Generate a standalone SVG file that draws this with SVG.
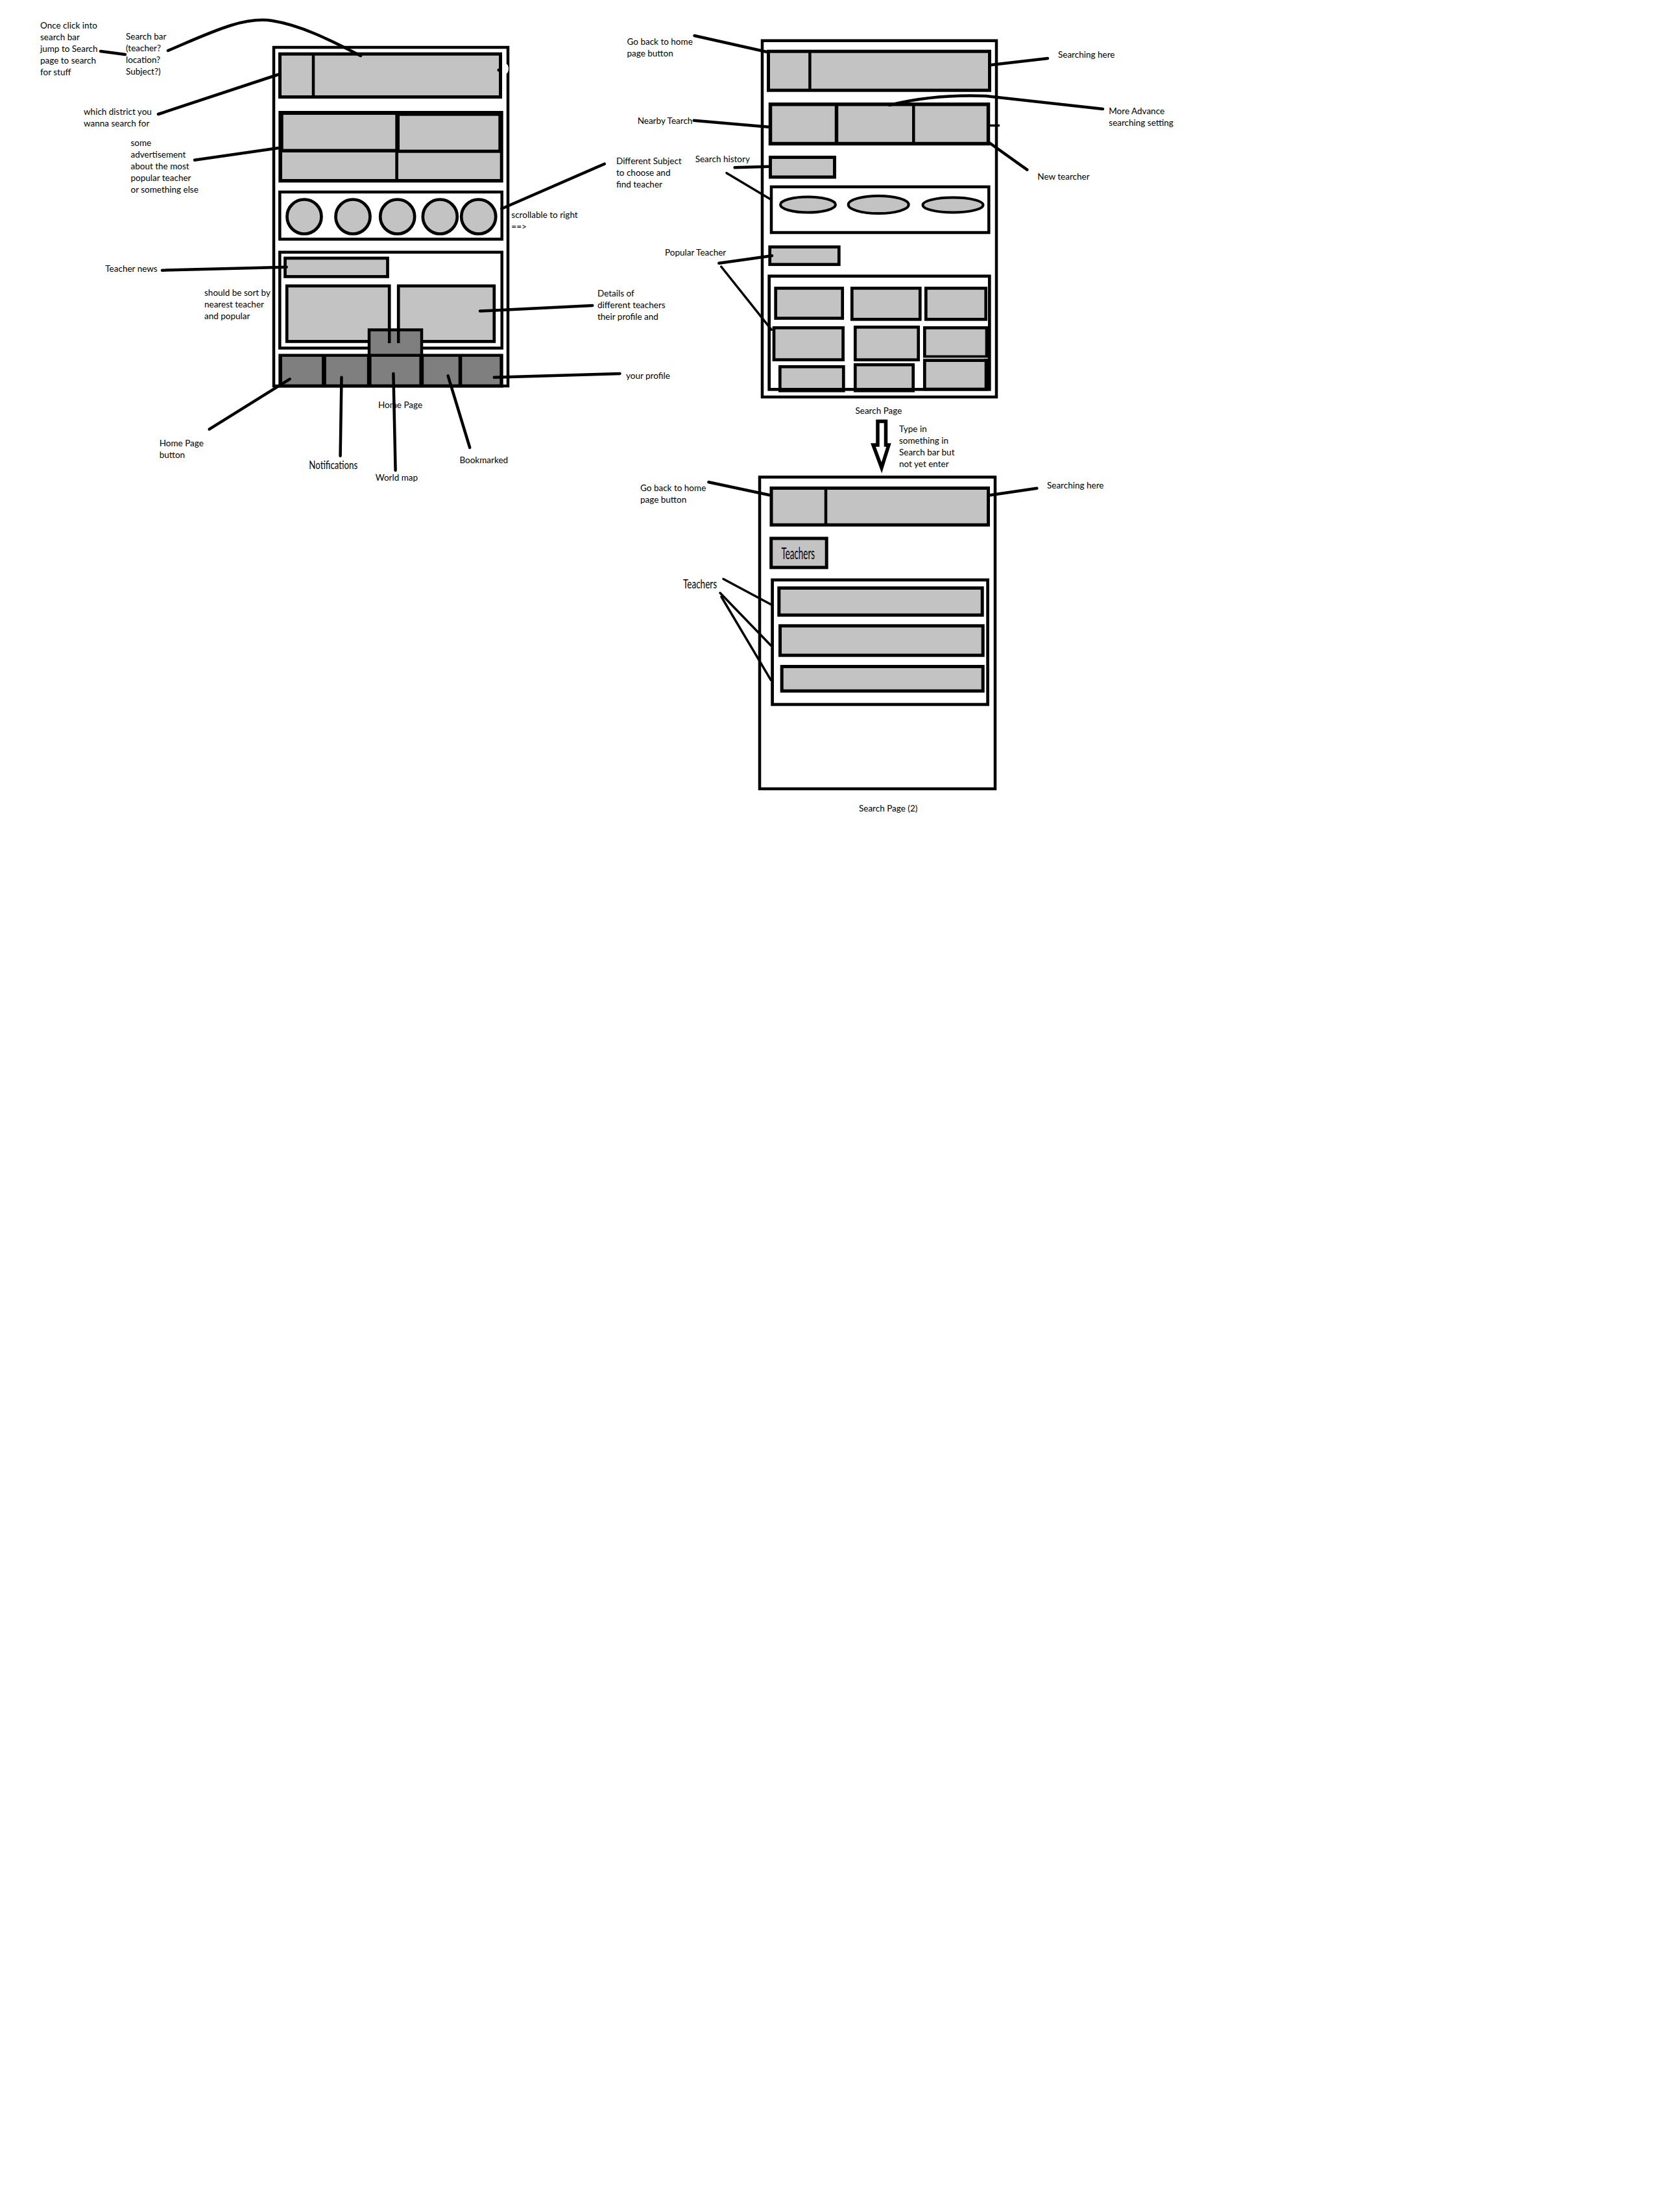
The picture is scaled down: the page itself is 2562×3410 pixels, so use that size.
<svg xmlns="http://www.w3.org/2000/svg" width="2562" height="3410" viewBox="0 0 2562 3410">
<style>
.bg{fill:#fff}
.frame{fill:none;stroke:#000;stroke-width:4.5}
.wframe{fill:#fff;stroke:#000;stroke-width:4.5}
.box{fill:#c3c3c3;stroke:#000;stroke-width:4.7}
.dark{fill:#7f7f7f;stroke:#000;stroke-width:4.5}
.ln{fill:none;stroke:#000;stroke-width:4.5;stroke-linecap:round;stroke-linejoin:round}
.thin{fill:none;stroke:#000;stroke-width:3.5;stroke-linecap:round}
text{font-family:Lato,"Open Sans","Liberation Sans",sans-serif;font-size:13.5px;fill:#000}
.cond{font-size:17.5px}
</style>
<rect class="bg" x="0" y="0" width="2562" height="3410"/>

<g id="home-page">
  <rect class="wframe" x="422" y="73" width="361" height="522"/>
  <g id="home-search-bar">
    <rect class="box" x="431.5" y="83.2" width="340" height="66.3" style="stroke-width:5"/>
    <line x1="483" y1="83" x2="483" y2="149.5" stroke="#000" stroke-width="4.5"/>
    <ellipse cx="779" cy="106" rx="5" ry="8" fill="#fff"/>
    <circle cx="769" cy="108" r="2.5" fill="#000"/>
  </g>
  <g id="home-ads">
    <rect x="429.3" y="171" width="346.4" height="110.4" fill="#000"/>
    <rect x="436.7" y="177" width="172.6" height="52.6" fill="#c3c3c3"/>
    <rect x="616" y="178.6" width="152.3" height="52.1" fill="#c3c3c3"/>
    <rect x="435" y="235" width="174.3" height="41" fill="#c3c3c3"/>
    <rect x="614" y="235.7" width="156.7" height="40.3" fill="#c3c3c3"/>
  </g>
  <g id="home-subjects">
    <rect class="frame" x="431.3" y="296" width="342.4" height="72.7"/>
    <circle class="box" cx="469" cy="334" r="26.5"/>
    <circle class="box" cx="544" cy="334" r="26.5"/>
    <circle class="box" cx="612.7" cy="334" r="26.5"/>
    <circle class="box" cx="678.3" cy="334" r="26.5"/>
    <circle class="box" cx="737.7" cy="334" r="26.5"/>
  </g>
  <g id="home-news">
    <rect class="frame" x="431.3" y="388.8" width="342.4" height="147.8"/>
    <rect class="box" x="439.5" y="398" width="158" height="28.4"/>
    <rect class="box" x="442.2" y="440.8" width="158" height="85.6"/>
    <rect class="box" x="614.2" y="440.8" width="147.6" height="85.6"/>
    <rect class="dark" x="569" y="508.5" width="81" height="40"/>
    <line x1="600.2" y1="508" x2="600.2" y2="529" stroke="#000" stroke-width="4.5"/>
    <line x1="614.2" y1="508" x2="614.2" y2="529" stroke="#000" stroke-width="4.5"/>
  </g>
  <g id="home-nav">
    <rect x="429.3" y="545.5" width="346.4" height="52" fill="#000"/>
    <rect x="435" y="550" width="61" height="42.5" fill="#7f7f7f"/>
    <rect x="502.8" y="550" width="63" height="42.5" fill="#7f7f7f"/>
    <rect x="572.6" y="550" width="73.8" height="42.5" fill="#7f7f7f"/>
    <rect x="653.2" y="550" width="53.5" height="42.5" fill="#7f7f7f"/>
    <rect x="712.3" y="550" width="58" height="42.5" fill="#7f7f7f"/>
  </g>
</g>

<g id="search-page">
  <rect class="wframe" x="1175" y="62.7" width="361" height="549.3"/>
  <g id="sp-search-bar">
    <rect class="box" x="1184.5" y="79.2" width="341" height="60" style="stroke-width:5"/>
    <line x1="1248.4" y1="79" x2="1248.4" y2="139" stroke="#000" stroke-width="4.5"/>
  </g>
  <g id="sp-nearby">
    <rect class="box" x="1187.5" y="160.8" width="336" height="60.7" style="stroke-width:5.5"/>
    <line x1="1289.5" y1="160" x2="1289.5" y2="222" stroke="#000" stroke-width="5.5"/>
    <line x1="1408.3" y1="160" x2="1408.3" y2="222" stroke="#000" stroke-width="4.5"/>
    <line x1="1526" y1="193.5" x2="1541" y2="193.5" stroke="#000" stroke-width="3.5"/>
  </g>
  <rect id="sp-history" class="box" x="1187.5" y="242.5" width="99" height="30.5" style="stroke-width:5"/>
  <g id="sp-subjects">
    <rect class="frame" x="1189" y="288" width="335.3" height="70.5"/>
    <ellipse class="box" cx="1245.5" cy="315.5" rx="42.5" ry="12" style="stroke-width:4"/>
    <ellipse class="box" cx="1354.2" cy="315.5" rx="46.5" ry="13.5" style="stroke-width:4"/>
    <ellipse class="box" cx="1469" cy="316" rx="46.5" ry="11.5" style="stroke-width:4"/>
  </g>
  <rect id="sp-popular" class="box" x="1186.7" y="380.7" width="106.6" height="27"/>
  <g id="sp-grid">
    <rect class="box" x="1195.7" y="444.3" width="103" height="46.3"/>
    <rect class="box" x="1313.3" y="444.3" width="105" height="48"/>
    <rect class="box" x="1427.3" y="444.3" width="92.4" height="48"/>
    <rect class="box" x="1193" y="505.3" width="106.6" height="49.3"/>
    <rect class="box" x="1318.3" y="504.3" width="97.4" height="50.4"/>
    <rect class="box" x="1425.3" y="505.3" width="95.7" height="44.7"/>
    <rect class="box" x="1202.3" y="565.3" width="98" height="37"/>
    <rect class="box" x="1318.3" y="562.3" width="89.4" height="40"/>
    <rect class="box" x="1425.3" y="555.6" width="95.7" height="44.4"/>
    <rect x="1517.7" y="553" width="8" height="48" fill="#000"/>
    <line x1="1423" y1="552" x2="1522.7" y2="552" stroke="#fff" stroke-width="1"/>
    <rect class="frame" x="1185.7" y="425.7" width="339.6" height="174.6" style="stroke-width:4.7"/>
  </g>
</g>

<g id="transition-arrow">
  <polygon points="1353,649.5 1365.5,649.5 1365.5,686 1370,686 1359,721 1346,686 1353,686" fill="#fff" stroke="#000" stroke-width="5.5" stroke-linejoin="miter"/>
</g>

<g id="search-page-2">
  <rect class="wframe" x="1171" y="735.5" width="363" height="480.5"/>
  <g id="sp2-search-bar">
    <rect class="box" x="1189" y="752.5" width="334.5" height="56.7" style="stroke-width:5"/>
    <line x1="1273" y1="752" x2="1273" y2="809" stroke="#000" stroke-width="4.5"/>
  </g>
  <g id="sp2-teachers-btn">
    <rect class="box" x="1188.7" y="830" width="85.5" height="44.8" style="stroke-width:5"/>
    <text x="1204.5" y="862" style="font-size:25px" textLength="51.5" lengthAdjust="spacingAndGlyphs">Teachers</text>
  </g>
  <g id="sp2-list">
    <rect class="frame" x="1190.6" y="894" width="332" height="192" style="stroke-width:4.7"/>
    <rect class="box" x="1200.8" y="906.5" width="313.4" height="41.7" style="stroke-width:5"/>
    <rect class="box" x="1202.5" y="964.8" width="312.7" height="45.4" style="stroke-width:5"/>
    <rect class="box" x="1205.2" y="1027.5" width="310" height="37.7" style="stroke-width:5"/>
  </g>
</g>

<g id="labels">
  <text x="62" y="44">Once click into</text>
  <text x="62" y="62">search bar</text>
  <text x="62" y="80">jump to Search</text>
  <text x="62" y="98">page to search</text>
  <text x="62" y="116">for stuff</text>
  <text x="194" y="61">Search bar</text>
  <text x="194" y="79">(teacher?</text>
  <text x="194" y="97">location?</text>
  <text x="194" y="115">Subject?)</text>
  <text x="129" y="177">which district you</text>
  <text x="129" y="195">wanna search for</text>
  <text x="201.5" y="225">some</text>
  <text x="201.5" y="243">advertisement</text>
  <text x="201.5" y="261">about the most</text>
  <text x="201.5" y="279">popular teacher</text>
  <text x="201.5" y="297">or something else</text>
  <text x="162.3" y="419">Teacher news</text>
  <text x="315" y="455.5">should be sort by</text>
  <text x="315" y="474">nearest teacher</text>
  <text x="315" y="492">and popular</text>
  <text x="245.7" y="688">Home Page</text>
  <text x="245.7" y="706">button</text>
  <text class="cond" x="476.3" y="722.5" textLength="75" lengthAdjust="spacingAndGlyphs">Notifications</text>
  <text x="583" y="628.5">Home Page</text>
  <text x="578.7" y="741">World map</text>
  <text x="708.4" y="713.5">Bookmarked</text>
  <text x="965" y="584">your profile</text>
  <text x="950" y="253">Different Subject</text>
  <text x="950" y="271">to choose and</text>
  <text x="950" y="289">find teacher</text>
  <text x="788.3" y="336">scrollable to right</text>
  <text x="788.3" y="354">==&gt;</text>
  <text x="921" y="457">Details of</text>
  <text x="921" y="475">different teachers</text>
  <text x="921" y="493">their profile and</text>

  <text x="966.5" y="69">Go back to home</text>
  <text x="966.5" y="87">page button</text>
  <text x="982.7" y="191">Nearby Tearch</text>
  <text x="1071.7" y="250">Search history</text>
  <text x="1025" y="394">Popular Teacher</text>
  <text x="1631" y="89">Searching here</text>
  <text x="1709.3" y="176">More Advance</text>
  <text x="1709.3" y="194">searching setting</text>
  <text x="1599.3" y="277">New tearcher</text>
  <text x="1318.5" y="638">Search Page</text>
  <text x="1386" y="666">Type in</text>
  <text x="1386" y="684">something in</text>
  <text x="1386" y="702">Search bar but</text>
  <text x="1386" y="720">not yet enter</text>

  <text x="987" y="757">Go back to home</text>
  <text x="987" y="775">page button</text>
  <text x="1614" y="753">Searching here</text>
  <text x="1053" y="907" style="font-size:20px" textLength="52" lengthAdjust="spacingAndGlyphs">Teachers</text>
  <text x="1324" y="1251">Search Page (2)</text>
</g>

<g id="connectors">
  <line class="ln" x1="155" y1="79" x2="193" y2="84"/>
  <path class="ln" d="M259,78 C325,50 375,25 420,32 C470,40 520,68 556,86"/>
  <line class="ln" x1="244" y1="176" x2="428.6" y2="115"/>
  <line class="ln" x1="300" y1="246.7" x2="428.6" y2="228.3"/>
  <line class="ln" x1="250" y1="416.7" x2="441.7" y2="411.8"/>
  <line class="ln" x1="322.7" y1="661.7" x2="446.7" y2="584.3"/>
  <line class="ln" x1="526.5" y1="581.7" x2="524.6" y2="702.7"/>
  <line class="ln" x1="606.4" y1="576" x2="609.6" y2="725"/>
  <line class="ln" x1="690.6" y1="579.3" x2="724.2" y2="690"/>
  <line class="ln" x1="761.8" y1="581.7" x2="955.5" y2="576"/>
  <line class="ln" x1="740" y1="479.6" x2="913.3" y2="471"/>
  <line class="ln" x1="773.3" y1="321.7" x2="931.7" y2="252.7"/>

  <line class="ln" x1="1070.5" y1="55" x2="1182" y2="80"/>
  <line class="ln" x1="1069.7" y1="185.7" x2="1185" y2="195.7"/>
  <line class="ln" x1="1132.6" y1="258.3" x2="1185" y2="256.7"/>
  <line class="thin" x1="1120" y1="266.7" x2="1187" y2="306.7"/>
  <line class="ln" x1="1528.3" y1="100" x2="1615" y2="90"/>
  <path class="ln" d="M1371,162 C1420,150 1470,146 1520,148 L1700,168"/>
  <line class="ln" x1="1525" y1="220" x2="1583.3" y2="261.7"/>
  <line class="ln" x1="1108.3" y1="405.7" x2="1190" y2="394.3"/>
  <line class="thin" x1="1111.7" y1="411" x2="1189.3" y2="508.3"/>

  <line class="ln" x1="1092.4" y1="743.3" x2="1186.5" y2="763.3"/>
  <line class="ln" x1="1526.7" y1="763.3" x2="1598.3" y2="752.7"/>
  <line class="thin" x1="1115" y1="892.5" x2="1188.3" y2="931.7"/>
  <line class="thin" x1="1110" y1="914" x2="1188.3" y2="995"/>
  <line class="thin" x1="1112" y1="920" x2="1188.3" y2="1048.3"/>
</g>
</svg>
